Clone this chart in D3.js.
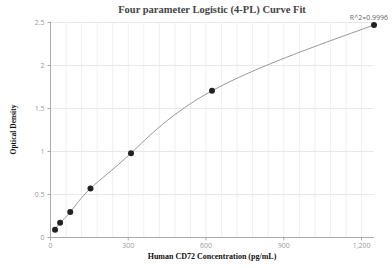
<!DOCTYPE html>
<html>
<head>
<meta charset="utf-8">
<script src="https://cdn.jsdelivr.net/npm/d3@7"></script>
<style>
body{margin:0;background:#fff}
</style>
</head>
<body>
<div id="chart"></div>
<script>

// standard concentrations and measured OD
const concentrations = [19.53, 39.06, 78.13, 156.25, 312.5, 625, 1250]
const odValues = [0.085, 0.165, 0.29, 0.565, 0.975, 1.70, 2.465]
const xTicks = [0, 300, 600, 900, 1200]
const yTicks = [0, 0.5, 1, 1.5, 2, 2.5]
const xGrid = d3.range(0, 1250, 60)

const width = 392
const height = 268
const margin = {top:22, right:18, bottom:31, left:50}

const svg = d3.select("#chart")
.append("svg")
.attr("width",width)
.attr("height",height)

const x = d3.scaleLinear().domain([0,1250]).range([margin.left, width-margin.right])
const y = d3.scaleLinear().domain([0,2.5]).range([height-margin.bottom, margin.top])

// grid
svg.append("g")
.selectAll("line")
.data(xGrid)
.enter()
.append("line")
.attr("x1",d=>x(d)+0.5)
.attr("x2",d=>x(d)+0.5)
.attr("y1",y(0))
.attr("y2",y(2.5))
.attr("stroke","#eef0f2")

svg.append("g")
.selectAll("line")
.data(yTicks)
.enter()
.append("line")
.attr("x1",x(0))
.attr("x2",x(1250))
.attr("y1",d=>Math.round(y(d))+0.5)
.attr("y2",d=>Math.round(y(d))+0.5)
.attr("stroke","#e6e8ea")

// axes
const xAxis = svg.append("g")
.attr("transform",`translate(0,${Math.round(y(0))+0.5})`)
.call(d3.axisBottom(x).tickValues(xTicks).tickSize(3).tickFormat(d3.format(",")))

const yAxis = svg.append("g")
.attr("transform",`translate(${Math.round(x(0))+0.5},0)`)
.call(d3.axisLeft(y).tickValues(yTicks).tickSize(3).tickFormat(d=>d))

for (const a of [xAxis,yAxis]){
a.select(".domain").attr("stroke","#aaa")
a.selectAll(".tick line").attr("stroke","#aaa")
a.selectAll(".tick text")
.attr("fill","#999")
.attr("font-family","'Open Sans', Arial, sans-serif")
.attr("font-size","7px")
}
xAxis.select(".domain").attr("d",`M${x(0)},0H${x(1250)}`)
yAxis.select(".domain").attr("d",`M0,${y(0)}V${y(2.5)}`)

// curve
const pts = concentrations.map((c,i)=>[c,odValues[i]])

svg.append("path")
.datum(pts)
.attr("fill","none")
.attr("stroke","#999")
.attr("stroke-width",1)
.attr("d",d3.line().x(d=>x(d[0])).y(d=>y(d[1])).curve(d3.curveNatural))

svg.selectAll("circle")
.data(pts)
.enter()
.append("circle")
.attr("cx",d=>x(d[0]))
.attr("cy",d=>y(d[1]))
.attr("r",3)
.attr("fill","#222")

// texts
svg.append("text")
.attr("x",(x(0)+x(1250))/2)
.attr("y",13)
.attr("text-anchor","middle")
.attr("font-family","'Liberation Serif', serif")
.attr("font-weight","bold")
.attr("font-size","10.5px")
.attr("fill","#444")
.text("Four parameter Logistic (4-PL) Curve Fit")

svg.append("text")
.attr("x",(x(0)+x(1250))/2)
.attr("y",259)
.attr("text-anchor","middle")
.attr("font-family","'Liberation Serif', serif")
.attr("font-weight","bold")
.attr("font-size","8px")
.attr("fill","#111")
.text("Human CD72 Concentration (pg/mL)")

svg.append("text")
.attr("transform",`translate(16,${(y(0)+y(2.5))/2}) rotate(-90)`)
.attr("text-anchor","middle")
.attr("font-family","'Liberation Serif', serif")
.attr("font-weight","bold")
.attr("font-size","7.5px")
.attr("fill","#111")
.text("Optical Density")

svg.append("text")
.attr("x",x(1250)+14)
.attr("y",y(2.465)-5)
.attr("text-anchor","end")
.attr("font-family","'Open Sans', Arial, sans-serif")
.attr("font-size","7px")
.attr("fill","#666")
.text("R^2=0.9996")

</script>
</body>
</html>
